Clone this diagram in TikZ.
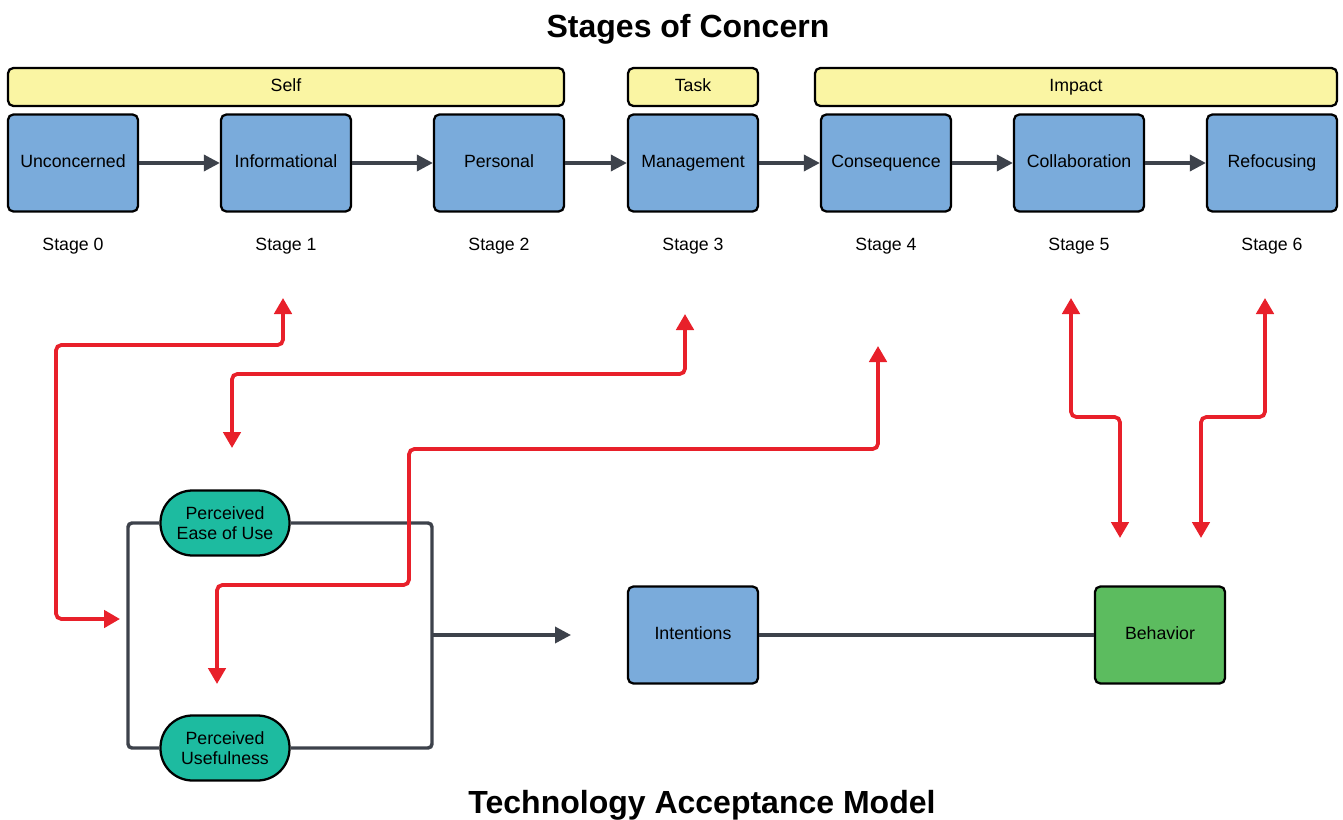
\documentclass[tikz,border=0pt]{standalone}
\usepackage{fontspec}
\setmainfont{Liberation Sans}
\usetikzlibrary{arrows.meta}

\definecolor{boxblue}{HTML}{7AABDB}
\definecolor{baryellow}{HTML}{FAF5A3}
\definecolor{pillteal}{HTML}{1DBBA0}
\definecolor{behgreen}{HTML}{5CBC5F}
\definecolor{linegray}{HTML}{3D424B}
\definecolor{arrred}{HTML}{E8202A}

\tikzset{
  stagebox/.style={draw=black, line width=1.7pt, fill=boxblue, rounded corners=4pt,
    minimum width=97.5pt, minimum height=72.75pt, text height=9.6pt, text depth=2.6pt,
    font=\fontsize{13.3}{15}\selectfont},
  groupbar/.style={draw=black, line width=1.7pt, fill=baryellow, rounded corners=4pt,
    minimum height=28.5pt, text height=9.6pt, text depth=2.6pt,
    font=\fontsize{13.3}{15}\selectfont},
  pill/.style={draw=black, line width=1.7pt, fill=pillteal, rounded corners=24pt,
    minimum width=96.75pt, minimum height=48.75pt, align=center,
    font=\fontsize{13.3}{15.5}\selectfont},
  stagelabel/.style={font=\fontsize{13.3}{15}\selectfont, text height=9.6pt, text depth=2.6pt},
  flow/.style={draw=linegray, line width=2.6pt, -{Triangle[length=12pt,width=12pt]}},
  link/.style={draw=linegray, line width=2.6pt, rounded corners=3pt},
  concern/.style={draw=arrred, line width=2.8pt, rounded corners=4pt,
    {Triangle[length=12pt,width=13pt]}-{Triangle[length=12pt,width=13pt]}}
}

\begin{document}
\begin{tikzpicture}[x=0.75pt, y=-0.75pt]
  \useasboundingbox (0,0) rectangle (1343,820);

  \node[font=\fontsize{24}{28}\bfseries] (soc) at (688,29) {Stages of Concern};
  \node[font=\fontsize{24}{28}\bfseries] (tam) at (702,805) {Technology Acceptance Model};

  % group bars
  \node[groupbar, minimum width=417pt] (self) at (286,87) {Self};
  \node[groupbar, minimum width=97.5pt] (task) at (693,87) {Task};
  \node[groupbar, minimum width=391.5pt] (impact) at (1076,87) {Impact};

  % stages
  \node[stagebox] (st0) at (73,163) {Unconcerned};
  \node[stagebox] (st1) at (286,163) {Informational};
  \node[stagebox] (st2) at (499,163) {Personal};
  \node[stagebox] (st3) at (693,163) {Management};
  \node[stagebox] (st4) at (886,163) {Consequence};
  \node[stagebox] (st5) at (1079,163) {Collaboration};
  \node[stagebox] (st6) at (1272,163) {Refocusing};

  \foreach \i in {0,...,6}
    \node[stagelabel] (lab\i) at ([yshift=-62pt]st\i.center) {Stage \i};

  \foreach \a/\b in {st0/st1, st1/st2, st2/st3, st3/st4, st4/st5, st5/st6}
    \draw[flow] (\a) -- (\b);

  % technology acceptance model
  \node[pill] (peou) at (225,523) {Perceived\\Ease of Use};
  \node[pill] (pu) at (225,748) {Perceived\\Usefulness};
  \node[stagebox] (intent) at (693,635) {Intentions};
  \node[stagebox, fill=behgreen] (behav) at (1160,635) {Behavior};

  \coordinate (lft) at (128,635);
  \coordinate (rgt) at (432,635);
  \coordinate (tamout) at (571,635);
  \draw[link] (peou.west) -| (lft) |- (pu.west);
  \draw[link] (peou.east) -| (rgt) |- (pu.east);
  \draw[flow] (rgt) -- (tamout);
  \draw[link] (intent) -- (behav);

  % red links
  \coordinate (up1) at (283,298);
  \coordinate (in1) at (120,619);
  \coordinate (up3) at (685,314);
  \coordinate (in3) at (232,448);
  \coordinate (up4) at (878,346);
  \coordinate (in4) at (217,684);
  \coordinate (up5) at (1071,298);
  \coordinate (in5) at (1120,538);
  \coordinate (up6) at (1265,298);
  \coordinate (in6) at (1201,538);

  \draw[concern] (up1) -- (283,345) -- (56,345) -- (56,619) -- (in1);
  \draw[concern] (up3) -- (685,374) -- (232,374) -- (in3);
  \draw[concern] (up4) -- (878,449) -- (409,449) -- (409,585) -- (217,585) -- (in4);
  \draw[concern] (up5) -- (1071,417) -- (1120,417) -- (in5);
  \draw[concern] (up6) -- (1265,417) -- (1201,417) -- (in6);
\end{tikzpicture}
\end{document}
